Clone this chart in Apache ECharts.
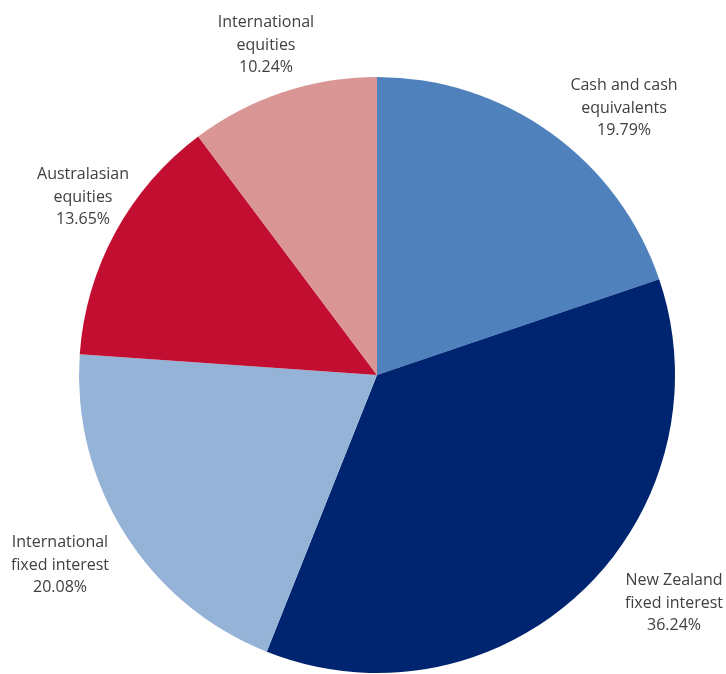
<!DOCTYPE html>
<html>
<head>
<meta charset="utf-8">
<script src="https://cdn.jsdelivr.net/npm/echarts@6/dist/echarts.min.js"></script>
<style>
  html, body { margin: 0; padding: 0; background: #ffffff; }
  #chart { width: 726px; height: 674px; }
</style>
</head>
<body>
<div id="chart"></div>
<script>
// Portfolio allocation by asset class (clockwise from 12 o'clock)
const categories = [
  'Cash and cash\nequivalents',
  'New Zealand\nfixed interest',
  'International\nfixed interest',
  'Australasian\nequities',
  'International\nequities'
];
const shares = [19.79, 36.24, 20.08, 13.65, 10.24];

const sliceColors = ['#4F81BD', '#002570', '#95B3D7', '#C20E30', '#D99694'];

// Centre point of each label block, in pixels
const labelAnchors = [
  [624, 108],
  [674, 603],
  [60, 565],
  [83, 197],
  [266, 45]
];

const chart = echarts.init(document.getElementById('chart'), null, { renderer: 'canvas' });

chart.setOption({
  animation: false,
  backgroundColor: '#ffffff',
  series: [{
    type: 'pie',
    center: [377, 375],
    radius: 298,
    startAngle: 90,
    clockwise: true,
    avoidLabelOverlap: false,
    itemStyle: { borderWidth: 0 },
    label: {
      show: true,
      position: 'outside',
      formatter: p => p.name + '\n' + p.value.toFixed(2) + '%',
      fontFamily: 'Open Sans',
      fontSize: 16,
      lineHeight: 22.5,
      color: '#404040',
      align: 'center'
    },
    labelLine: { show: false },
    labelLayout: params => ({
      x: labelAnchors[params.dataIndex][0],
      y: labelAnchors[params.dataIndex][1],
      align: 'center',
      verticalAlign: 'middle'
    }),
    emphasis: { disabled: true },
    data: categories.map((name, i) => ({
      name: name,
      value: shares[i],
      itemStyle: { color: sliceColors[i] }
    }))
  }]
});
</script>
</body>
</html>
